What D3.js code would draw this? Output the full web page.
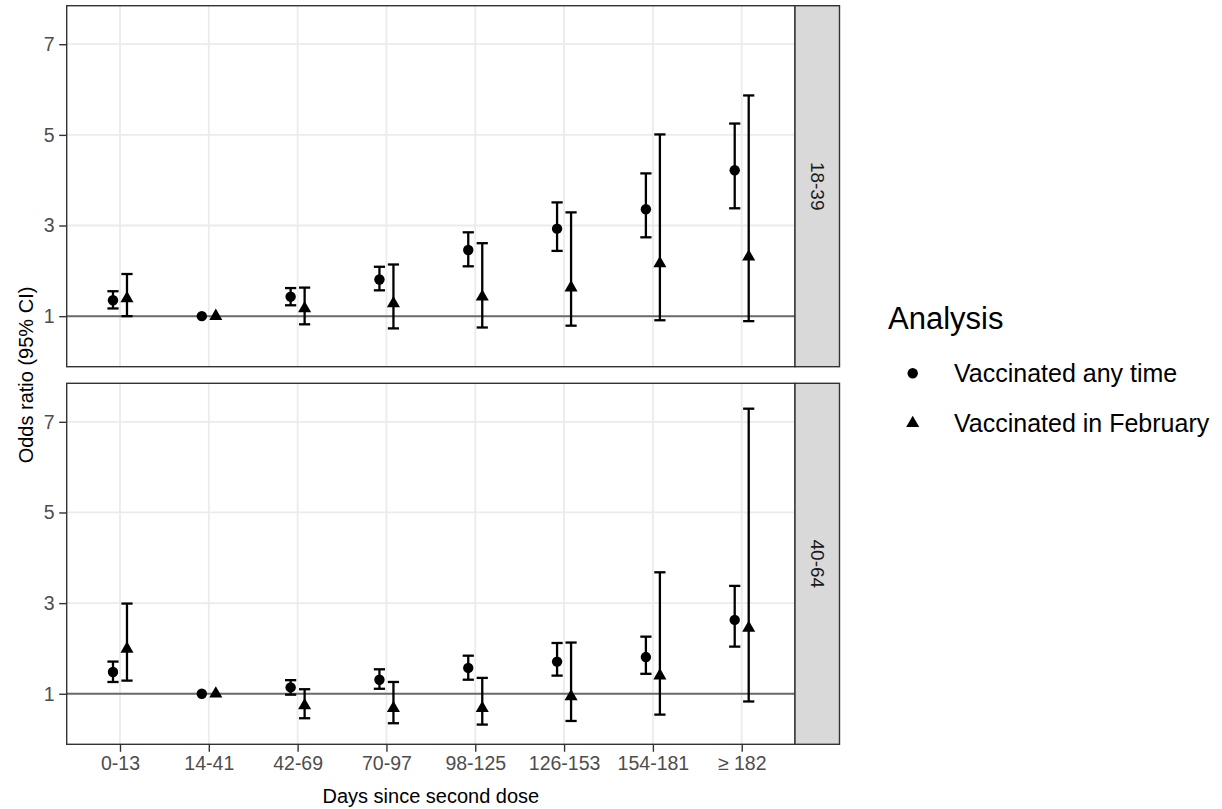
<!DOCTYPE html>
<html>
<head>
<meta charset="utf-8">
<script src="https://cdn.jsdelivr.net/npm/d3@7"></script>
<style>
  html, body { margin: 0; padding: 0; background: #fff; }
  svg { display: block; font-family: "Liberation Sans", Arial, sans-serif; }
</style>
</head>
<body>
<div id="box"></div>
<script>
// 分类、分组和数值
const categories = ["0-13", "14-41", "42-69", "70-97", "98-125", "126-153", "154-181", "\u2265 182"];
const ageGroups = ["18-39", "40-64"];
const analyses = ["Vaccinated any time", "Vaccinated in February"];
const yTicks = [1, 3, 5, 7];

// 18-39
const anyTime_18_or    = [1.35, 1.00, 1.43, 1.81, 2.46, 2.93, 3.36, 4.22];
const anyTime_18_lo    = [1.17, null, 1.24, 1.57, 2.10, 2.44, 2.74, 3.38];
const anyTime_18_hi    = [1.55, null, 1.62, 2.09, 2.85, 3.51, 4.15, 5.25];
const february_18_or   = [1.39, 1.00, 1.17, 1.28, 1.43, 1.63, 2.16, 2.31];
const february_18_lo   = [1.00, null, 0.82, 0.73, 0.75, 0.79, 0.91, 0.89];
const february_18_hi   = [1.93, null, 1.63, 2.14, 2.61, 3.29, 5.01, 5.87];
// 40-64
const anyTime_40_or    = [1.48, 1.00, 1.14, 1.31, 1.57, 1.71, 1.81, 2.63];
const anyTime_40_lo    = [1.26, null, 0.98, 1.11, 1.31, 1.40, 1.44, 2.04];
const anyTime_40_hi    = [1.71, null, 1.30, 1.54, 1.84, 2.12, 2.26, 3.38];
const february_40_or   = [1.99, 1.00, 0.74, 0.68, 0.68, 0.94, 1.40, 2.45];
const february_40_lo   = [1.29, null, 0.46, 0.35, 0.32, 0.40, 0.54, 0.83];
const february_40_hi   = [2.99, null, 1.10, 1.26, 1.35, 2.13, 3.68, 7.29];

let chart = {
    width: 1222,
    height: 809,
    left: 66.7,
    right: 795,
    stripW: 44.5,
    panels: [[5.7, 366.7], [383.3, 744.3]],
    dodge: 7,

    /** 把数组整理成行 */
    buildRows(){
        let sets = [
            [0, 0, anyTime_18_or, anyTime_18_lo, anyTime_18_hi],
            [0, 1, february_18_or, february_18_lo, february_18_hi],
            [1, 0, anyTime_40_or, anyTime_40_lo, anyTime_40_hi],
            [1, 1, february_40_or, february_40_lo, february_40_hi]
        ];
        let rows = [];
        sets.forEach(s => {
            categories.forEach((c, i) => {
                rows.push({panel: s[0], series: s[1], cat: c, or: s[2][i], lo: s[3][i], hi: s[4][i]});
            });
        });
        return rows;
    },

    drawSvgBox(){
        return d3.select("#box")
            .append("svg")
            .attr("width", this.width)
            .attr("height", this.height);
    },

    /** 点的形状 */
    shape(series){
        if(series === 0){
            return d3.symbol().type(d3.symbolCircle).size(Math.PI * 5.2 * 5.2)();
        }
        return d3.symbol().type(d3.symbolTriangle).size(74)();
    },

    drawPanel(svg, p, x, rows){
        let top = this.panels[p][0], bottom = this.panels[p][1];
        let y = d3.scaleLinear().domain([-0.115, 7.85]).range([bottom, top]);
        let g = svg.append("g");

        // 背景网格
        g.append("rect")
            .attr("x", this.left).attr("y", top)
            .attr("width", this.right - this.left).attr("height", bottom - top)
            .attr("fill", "white");
        g.selectAll(".gy")
            .data(yTicks)
            .enter()
            .append("line")
            .attr("x1", this.left).attr("x2", this.right)
            .attr("y1", d => y(d)).attr("y2", d => y(d))
            .attr("stroke", "#EBEBEB").attr("stroke-width", 1.8);
        g.selectAll(".gx")
            .data(categories)
            .enter()
            .append("line")
            .attr("x1", d => x(d)).attr("x2", d => x(d))
            .attr("y1", top).attr("y2", bottom)
            .attr("stroke", "#EBEBEB").attr("stroke-width", 1.8);

        // 参考线 OR = 1
        g.append("line")
            .attr("x1", this.left).attr("x2", this.right)
            .attr("y1", y(1)).attr("y2", y(1))
            .attr("stroke", "#6B6B6B").attr("stroke-width", 2);

        let data = rows.filter(d => d.panel === p);
        let dx = d => x(d.cat) + (d.series === 0 ? -this.dodge : this.dodge);
        let bars = data.filter(d => d.lo !== null);

        // 误差线
        let eb = g.selectAll(".eb").data(bars).enter().append("g")
            .attr("stroke", "black").attr("stroke-width", 2.3).attr("fill", "none");
        eb.append("line")
            .attr("x1", dx).attr("x2", dx)
            .attr("y1", d => y(d.lo)).attr("y2", d => y(d.hi));
        eb.append("line")
            .attr("x1", d => dx(d) - 5.6).attr("x2", d => dx(d) + 5.6)
            .attr("y1", d => y(d.lo)).attr("y2", d => y(d.lo));
        eb.append("line")
            .attr("x1", d => dx(d) - 5.6).attr("x2", d => dx(d) + 5.6)
            .attr("y1", d => y(d.hi)).attr("y2", d => y(d.hi));

        // 点
        g.selectAll(".pt").data(data).enter().append("path")
            .attr("d", d => this.shape(d.series))
            .attr("transform", d => `translate(${dx(d)},${y(d.or)})`)
            .attr("fill", "black");

        // 边框
        g.append("rect")
            .attr("x", this.left).attr("y", top)
            .attr("width", this.right - this.left).attr("height", bottom - top)
            .attr("fill", "none").attr("stroke", "#333333").attr("stroke-width", 1.4);

        // y 轴
        let ax = g.append("g").attr("transform", `translate(${this.left},0)`)
            .call(d3.axisLeft(y).tickValues(yTicks).tickSize(7.5).tickPadding(4.5).tickFormat(d3.format("d")));
        ax.select(".domain").remove();
        ax.selectAll(".tick line").attr("stroke", "#333333").attr("stroke-width", 1.4);
        ax.selectAll(".tick text").attr("fill", "#4D4D4D").attr("font-size", "19.5px")
            .attr("font-family", "Liberation Sans, Arial, sans-serif");

        // 分面标签
        let sx = this.right;
        g.append("rect")
            .attr("x", sx).attr("y", top)
            .attr("width", this.stripW).attr("height", bottom - top)
            .attr("fill", "#D9D9D9").attr("stroke", "#333333").attr("stroke-width", 1.4);
        g.append("text")
            .attr("transform", `translate(${sx + this.stripW / 2},${(top + bottom) / 2}) rotate(90)`)
            .attr("text-anchor", "middle").attr("dy", "0.35em")
            .attr("font-size", "19px").attr("fill", "#1A1A1A")
            .text(ageGroups[p]);

        // x 轴只在下方面板
        if(p === 1){
            let xa = g.append("g").attr("transform", `translate(0,${bottom})`)
                .call(d3.axisBottom(x).tickSize(7.5).tickPadding(4));
            xa.select(".domain").remove();
            xa.selectAll(".tick line").attr("stroke", "#333333").attr("stroke-width", 1.4);
            xa.selectAll(".tick text").attr("fill", "#4D4D4D").attr("font-size", "19.5px")
                .attr("font-family", "Liberation Sans, Arial, sans-serif");
        }
    },

    drawLegend(svg){
        let lg = svg.append("g");
        lg.append("text")
            .attr("x", 888).attr("y", 329)
            .attr("font-size", "31px").attr("fill", "black")
            .text("Analysis");
        let item = lg.selectAll(".it").data(analyses).enter().append("g")
            .attr("transform", (d, i) => `translate(0,${373.3 + i * 50})`);
        item.append("path")
            .attr("d", (d, i) => this.shape(i))
            .attr("transform", "translate(912.7,0)")
            .attr("fill", "black");
        item.append("text")
            .attr("x", 954).attr("dy", "0.35em")
            .attr("font-size", "25px").attr("fill", "black")
            .text(d => d);
    },

    draw(){
        let svg = this.drawSvgBox();
        let rows = this.buildRows();
        let x = d3.scalePoint().domain(categories).range([this.left, this.right]).padding(0.6);

        [0, 1].forEach(p => this.drawPanel(svg, p, x, rows));

        // 轴标题
        svg.append("text")
            .attr("x", (this.left + this.right) / 2).attr("y", 802.5)
            .attr("text-anchor", "middle").attr("font-size", "20px").attr("fill", "black")
            .text("Days since second dose");
        svg.append("text")
            .attr("transform", `translate(33,${(this.panels[0][0] + this.panels[1][1]) / 2}) rotate(-90)`)
            .attr("text-anchor", "middle").attr("font-size", "20px").attr("fill", "black")
            .text("Odds ratio (95% CI)");

        this.drawLegend(svg);
    }
};

chart.draw();
</script>
</body>
</html>
